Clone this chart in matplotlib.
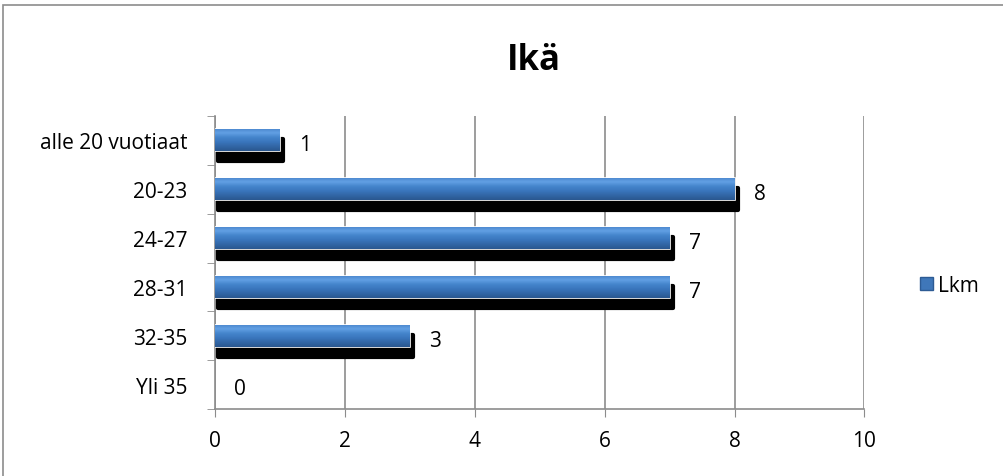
import matplotlib.pyplot as plt
import matplotlib.transforms as mtransforms
from matplotlib.patches import Rectangle
from matplotlib.colors import LinearSegmentedColormap
import numpy as np

plt.rcParams['font.family'] = ['Open Sans', 'DejaVu Sans']

categories = ['alle 20 vuotiaat', '20-23', '24-27', '28-31', '32-35', 'Yli 35']
counts = [1, 8, 7, 7, 3, 0]
x_ticks = [0, 2, 4, 6, 8, 10]
title = 'Ikä'
series_name = 'Lkm'

fs = 15

fig = plt.figure(figsize=(10.04, 4.77), dpi=100)
ax = fig.add_axes([0.214, 0.14, 0.647, 0.615])

# outer chart frame (cut off on right and bottom like the original)
fig.patches.append(Rectangle((3 / 1004, -0.1), 1.2, 1.1 - 6 / 477, transform=fig.transFigure,
                             fill=False, edgecolor='#8c8c8c', linewidth=1.2))

y = np.arange(len(categories))[::-1]
h = 0.45

# shadow bars shifted right/down
shadow_tr = mtransforms.offset_copy(ax.transData, fig=fig, x=3, y=-10, units='dots')
for yi, v in zip(y, counts):
    if v > 0:
        ax.barh(yi, v, height=h, color='black', edgecolor='black', linewidth=3,
                joinstyle='round', transform=shadow_tr, zorder=2)

# blue bars with a vertical gradient
cmap = LinearSegmentedColormap.from_list('b', ['#2a5890', '#3266a6', '#3a76bd', '#4585cc', '#62a0e4', '#4a86cc'])
for yi, v in zip(y, counts):
    if v > 0:
        b = ax.barh(yi, v, height=h, color='#3f77b9', edgecolor='white', linewidth=1.2, zorder=3)[0]
        x0, y0 = b.get_x(), b.get_y()
        im = ax.imshow(np.linspace(0, 1, 50).reshape(-1, 1), cmap=cmap, aspect='auto',
                       extent=(x0, x0 + b.get_width(), y0, y0 + b.get_height()),
                       origin='lower', zorder=3.5, interpolation='bilinear')
        im.set_clip_path(b)

for yi, v in zip(y, counts):
    ax.annotate(str(v), xy=(v, yi), xytext=(14, -3), textcoords='offset points',
                ha='left', va='center', fontsize=fs)

ax.set_xlim(0, 10)
ax.set_ylim(-0.5, len(categories) - 0.5)
ax.set_xticks(x_ticks)
ax.set_yticks(y)
ax.set_yticklabels(categories, fontsize=fs)
ax.set_yticks(np.arange(-0.5, len(categories), 1), minor=True)
ax.tick_params(axis='y', which='major', length=0, pad=20)
ax.tick_params(axis='y', which='minor', length=6, color='#8c8c8c', direction='out')
ax.tick_params(axis='x', length=6, color='#8c8c8c', direction='out', labelsize=fs, pad=9)
ax.grid(axis='x', color='#8c8c8c', linewidth=1.2, zorder=0)
ax.set_axisbelow(True)
for s in ['top', 'right']:
    ax.spines[s].set_visible(False)
for s in ['left', 'bottom']:
    ax.spines[s].set_color('#8c8c8c')
    ax.spines[s].set_linewidth(1.2)

fig.text(0.532, 0.872, title, ha='center', va='center', fontsize=25, fontweight='bold')

# legend
fig.patches.append(Rectangle((920 / 1004, (477 - 291) / 477), 13 / 1004, 13 / 477,
                             transform=fig.transFigure, facecolor='#3f77b9', edgecolor='#2d5b94'))
fig.text(938 / 1004, (477 - 286) / 477, series_name, ha='left', va='center', fontsize=fs)

fig.savefig('out.png', dpi=100)
